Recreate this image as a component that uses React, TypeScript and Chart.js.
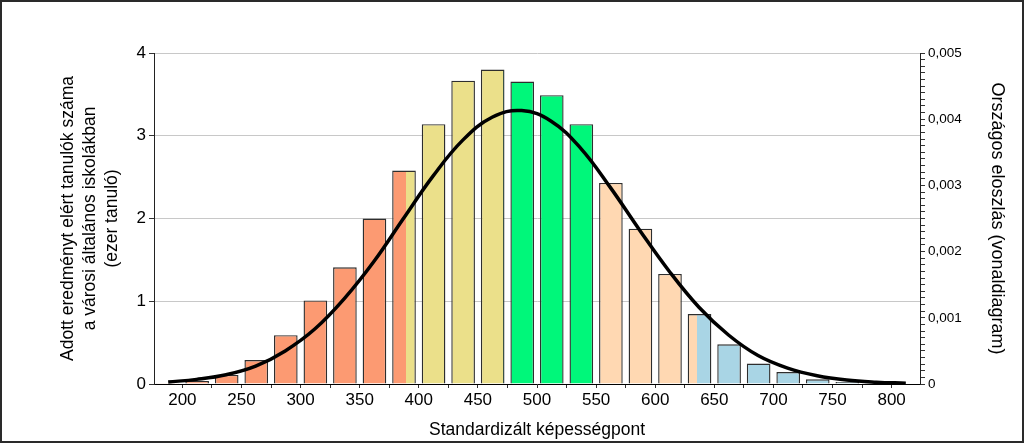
import React, { useEffect, useRef } from "react";
import { Chart, registerables } from "chart.js";

Chart.register(...registerables);

// Bins (centre of each 25-point wide bin) and number of students (thousands)
const binCenters = [
  187.5, 212.5, 237.5, 262.5, 287.5, 312.5, 337.5, 362.5, 387.5, 412.5,
  437.5, 462.5, 487.5, 512.5, 537.5, 562.5, 587.5, 612.5, 637.5, 662.5,
  687.5, 712.5, 737.5, 762.5, 787.5,
];
const studentCounts = [
  0.01, 0.035, 0.11, 0.29, 0.59, 1.01, 1.41, 2.0, 2.58, 3.14,
  3.665, 3.80, 3.655, 3.49, 3.14, 2.43, 1.877, 1.33, 0.846, 0.48,
  0.247, 0.145, 0.056, 0.024, 0.008,
];

// National distribution curve
const curveX = [
  188, 212, 237, 262, 287, 312, 337, 362, 387, 412, 437, 462, 487,
  512, 537, 562, 587, 612, 637, 662, 687, 712, 737, 762, 787, 812,
];
const curveY = [
  0.00003, 0.00007, 0.00014, 0.00027, 0.0005, 0.00083, 0.00129, 0.00185,
  0.0025, 0.00314, 0.00368, 0.00403, 0.00413, 0.00397, 0.00356, 0.00297,
  0.00232, 0.0017, 0.00116, 0.00074, 0.00043, 0.00024, 0.000125, 0.00006,
  0.000028, 0.000012,
];

// Proficiency level boundaries and fill colours
const levelBounds = [389, 471.5, 553, 635];
const levelColors = ["#FC9A72", "#EBE08A", "#00F77A", "#FFD8B2", "#A9D5E5"];

// Axes
const xRange = [176, 824];
const xTicks = [
  200, 225, 250, 275, 300, 325, 350, 375, 400, 425, 450, 475, 500, 525,
  550, 575, 600, 625, 650, 675, 700, 725, 750, 775, 800,
];
const xLabelTicks = [200, 250, 300, 350, 400, 450, 500, 550, 600, 650, 700, 750, 800];
const yTicks = [0, 1, 2, 3, 4];
const y2MajorTicks = [0, 0.001, 0.002, 0.003, 0.004, 0.005];
const y2MajorLabels = ["0", "0,001", "0,002", "0,003", "0,004", "0,005"];
const y2MinorPerMajor = 10;

const FONT = "'Liberation Sans', Arial, sans-serif";

export default function App() {
  const ref = useRef<HTMLCanvasElement | null>(null);

  useEffect(() => {
    document.body.style.margin = "0";
    const canvas = ref.current;
    if (!canvas) return;

    const barData = binCenters.map((x, i) => ({ x, y: studentCounts[i] }));
    const lineData = curveX.map((x, i) => ({ x, y: curveY[i] }));

    const y2Ticks: number[] = [];
    for (let i = 0; i < y2MajorTicks.length - 1; i++) {
      const a = y2MajorTicks[i];
      const b = y2MajorTicks[i + 1];
      for (let j = 0; j < y2MinorPerMajor; j++) {
        y2Ticks.push(a + ((b - a) * j) / y2MinorPerMajor);
      }
    }
    y2Ticks.push(y2MajorTicks[y2MajorTicks.length - 1]);

    const barFill = (ctx: any) => {
      const chart = ctx.chart;
      const xs = chart.scales && chart.scales.x;
      if (!chart.chartArea || !xs) return levelColors[0];
      const p0 = xs.getPixelForValue(xRange[0]);
      const p1 = xs.getPixelForValue(xRange[1]);
      const g = chart.ctx.createLinearGradient(p0, 0, p1, 0);
      g.addColorStop(0, levelColors[0]);
      levelBounds.forEach((b, i) => {
        const f = (b - xRange[0]) / (xRange[1] - xRange[0]);
        g.addColorStop(f, levelColors[i]);
        g.addColorStop(f, levelColors[i + 1]);
      });
      g.addColorStop(1, levelColors[levelColors.length - 1]);
      return g;
    };

    const chart = new Chart(canvas, {
      type: "bar",
      data: {
        datasets: [
          {
            type: "line",
            data: lineData,
            yAxisID: "y2",
            borderColor: "#000000",
            borderWidth: 3.5,
            pointRadius: 0,
            tension: 0.4,
            fill: false,
            order: 1,
          } as any,
          {
            type: "bar",
            data: barData,
            yAxisID: "y",
            backgroundColor: barFill,
            borderColor: "#2e2e2e",
            borderWidth: 1.4,
            barPercentage: 0.8,
            categoryPercentage: 1,
            order: 2,
          } as any,
        ],
      },
      options: {
        responsive: false,
        animation: false,
        layout: { padding: { top: 53, left: 0, right: 0, bottom: 0 } },
        plugins: { legend: { display: false }, tooltip: { enabled: false } },
        scales: {
          x: {
            type: "linear",
            min: xRange[0],
            max: xRange[1],
            offset: false,
            afterFit: (s: any) => {
              s.height = 59;
            },
            afterBuildTicks: (s: any) => {
              s.ticks = xTicks.map((v) => ({ value: v }));
            },
            grid: {
              display: true,
              drawOnChartArea: false,
              drawTicks: true,
              tickLength: 4,
              tickColor: "#333333",
              offset: false,
            },
            border: { display: true, color: "#000000", width: 1 },
            ticks: {
              autoSkip: false,
              maxRotation: 0,
              padding: 2,
              color: "#000000",
              font: { family: FONT, size: 17 },
              callback: (v: any) => (xLabelTicks.includes(Number(v)) ? String(v) : ""),
            },
            title: {
              display: true,
              text: "Standardizált képességpont",
              color: "#000000",
              font: { family: FONT, size: 17.5, lineHeight: 1.2 },
              padding: { top: 0, bottom: 2 },
            },
          },
          y: {
            type: "linear",
            position: "left",
            min: 0,
            max: 4,
            afterFit: (s: any) => {
              s.width = 154;
            },
            afterBuildTicks: (s: any) => {
              s.ticks = yTicks.map((v) => ({ value: v }));
            },
            grid: {
              color: "#c8c8c8",
              lineWidth: 1,
              tickColor: "#333333",
              tickLength: 5,
              drawTicks: true,
            },
            border: { display: true, color: "#222222", width: 1 },
            ticks: {
              padding: 3,
              color: "#000000",
              font: { family: FONT, size: 17 },
            },
            title: {
              display: true,
              text: [
                "Adott eredményt elért tanulók száma",
                "a városi általános iskolákban",
                "(ezer tanuló)",
              ],
              color: "#000000",
              font: { family: FONT, size: 17.5, lineHeight: 1.26 },
              padding: { top: 57, bottom: 0 },
            },
          },
          y2: {
            type: "linear",
            position: "right",
            min: 0,
            max: 0.005,
            afterFit: (s: any) => {
              s.width = 104;
            },
            afterBuildTicks: (s: any) => {
              s.ticks = y2Ticks.map((v) => ({ value: v }));
            },
            grid: {
              drawOnChartArea: false,
              drawTicks: true,
              tickLength: 5,
              tickColor: "#333333",
            },
            border: { display: true, color: "#222222", width: 1 },
            ticks: {
              autoSkip: false,
              padding: 3,
              color: "#000000",
              font: { family: FONT, size: 13.5 },
              callback: (v: any) => {
                const n = Number(v);
                const idx = y2MajorTicks.findIndex((m) => Math.abs(m - n) < 1e-9);
                return idx >= 0 ? y2MajorLabels[idx] : "";
              },
            },
            title: {
              display: true,
              text: "Országos eloszlás (vonaldiagram)",
              color: "#000000",
              font: { family: FONT, size: 18, lineHeight: 1.3 },
              padding: { top: 15, bottom: 0 },
            },
          },
        },
      } as any,
    });

    return () => {
      chart.destroy();
    };
  }, []);

  return (
    <div
      style={{
        position: "fixed",
        left: 0,
        top: 0,
        width: 1024,
        height: 443,
        background: "#ffffff",
      }}
    >
      <canvas ref={ref} width={1024} height={443} style={{ display: "block" }} />
      <div
        style={{
          position: "absolute",
          left: 0,
          top: 0,
          width: 1024,
          height: 443,
          boxSizing: "border-box",
          border: "2px solid #2a2a2a",
          pointerEvents: "none",
        }}
      />
    </div>
  );
}
